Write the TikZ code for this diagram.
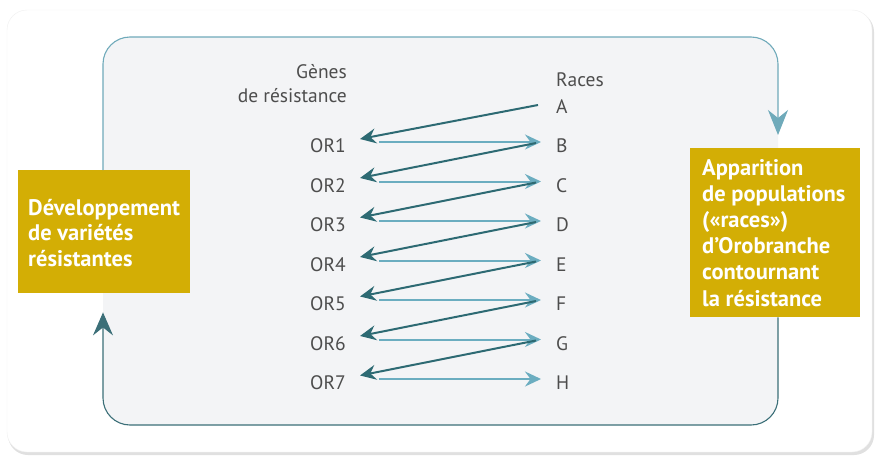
\documentclass[tikz,border=0pt]{standalone}
\usepackage{fontspec}
\setmainfont{PT Sans}
\usetikzlibrary{arrows.meta}
\definecolor{boxgold}{HTML}{D3AE05}
\definecolor{lblue}{HTML}{6BADC0}
\definecolor{dteal}{HTML}{2D6A73}
\definecolor{txtgrey}{HTML}{4D4D4D}
\definecolor{innerfill}{HTML}{F3F4F6}
\definecolor{topedge}{HTML}{6FAABA}
\definecolor{botedge}{HTML}{3B6F78}
\tikzset{
  lbl/.style={inner sep=0pt, text=txtgrey, font=\fontsize{19.5}{24.5}\selectfont},
  goldbox/.style={fill=boxgold, inner sep=0pt, anchor=north west},
  boxtext/.style={text=white, align=left, inner sep=0pt, anchor=west},
  bluearrow/.style={draw=lblue, line width=2pt, -{Stealth[length=16pt,width=15pt,inset=5.5pt]}},
  darkarrow/.style={draw=dteal, line width=2pt, -{Stealth[length=16pt,width=15pt,inset=5.5pt]}},
  cycletop/.style={draw=topedge, line width=1.1pt, rounded corners=27pt, -{Stealth[length=25pt,width=20pt,inset=8pt]}},
  cyclebot/.style={draw=botedge, line width=1.1pt, rounded corners=27pt, -{Stealth[length=23pt,width=20pt,inset=8pt]}}
}
\begin{document}
\begin{tikzpicture}[x=1pt,y=-1pt]
\useasboundingbox (0,0) rectangle (880,463);
\fill[white] (0,0) rectangle (880,463);
% card with shadow
\fill[black!12, rounded corners=20pt] (8,12) rectangle (874,455);
\fill[white, draw=black!6, rounded corners=20pt] (7,10) rectangle (872,452);
% inner area
\coordinate (tl) at (103,37);
\coordinate (tr) at (778,37);
\coordinate (bl) at (103,425);
\coordinate (br) at (778,425);
\fill[innerfill, rounded corners=27pt] (tl) rectangle (br);
% gold boxes
\node[goldbox, minimum width=172pt, minimum height=123pt] (lbox) at (18,170) {};
\node[boxtext, font=\fontsize{22.5}{25.5}\selectfont\bfseries] (ltext) at ([xshift=10pt,yshift=-1pt]lbox.west)
  {Développement\\de variétés\\résistantes};
\node[goldbox, minimum width=170pt, minimum height=169pt] (rbox) at (690,148) {};
\node[boxtext, font=\fontsize{22.5}{26.2}\selectfont\bfseries] (rtext) at ([xshift=12pt]rbox.west)
  {Apparition\\de populations\\(«races»)\\d’Orobranche\\contournant\\la résistance};
% cycle edges
\draw[cycletop] (lbox.north -| tl) -- (tl) -- (tr) -- ([yshift=13pt]rbox.north -| tr);
\draw[cyclebot] (rbox.south -| br) -- (br) -- (bl) -- ([yshift=-19pt]lbox.south -| bl);
% headers
\node[lbl, align=right, anchor=north east] (genes) at (347,64) {Gènes\\de résistance};
\node[lbl, anchor=base west] (races) at (556,86) {Races};
% rows
\foreach \n/\L [count=\i from 0] in {A/A,B/B,C/C,D/D,E/E,F/F,G/G,H/H}{
  \node[lbl, anchor=west] (\n) at (556,{106.5+39.5*\i}) {\L};
}
\foreach \i in {1,...,7}{
  \node[lbl, anchor=east] (or\i) at (346,{106.5+39.5*\i}) {OR\i};
}
% arrows
\foreach \i/\L in {1/B,2/C,3/D,4/E,5/F,6/G,7/H}{
  \draw[bluearrow] ([xshift=33pt,yshift=4pt]or\i.east) -- ([xshift=-15pt,yshift=4pt]\L.west);
}
\draw[darkarrow] ([xshift=-18pt,yshift=1.5pt]A.west) -- ([xshift=14pt,yshift=7pt]or1.east);
\foreach \L/\i in {B/2,C/3,D/4,E/5,F/6,G/7}{
  \draw[darkarrow] ([xshift=-20pt,yshift=3pt]\L.west) -- ([xshift=14pt,yshift=7.5pt]or\i.east);
}
\end{tikzpicture}
\end{document}
